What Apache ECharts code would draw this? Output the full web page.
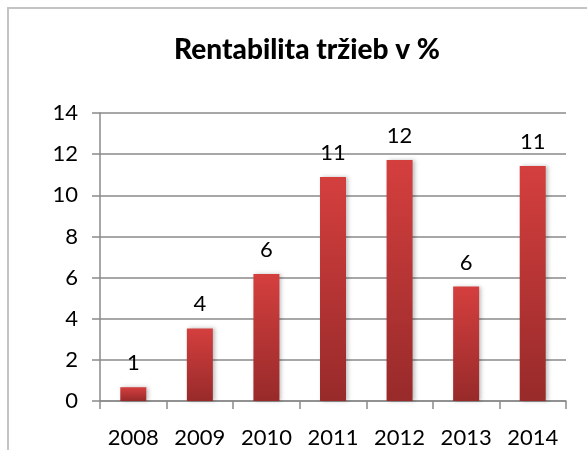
<!DOCTYPE html>
<html>
<head>
<meta charset="utf-8">
<script src="https://cdn.jsdelivr.net/npm/echarts@6/dist/echarts.min.js"></script>
<style>
  html, body { margin: 0; padding: 0; background: #fff; overflow: hidden; }
  #frame { position: absolute; left: 7px; top: 7px; width: 700px; height: 600px;
           border: 2px solid #c4c4c4; }
  #chart { position: absolute; left: 0; top: 0; width: 587px; height: 450px; }
</style>
</head>
<body>
<div id="frame"></div>
<div id="chart"></div>
<script>
  // roky a rentabilita (odcitane z obrazka)
  var years = ['2008', '2009', '2010', '2011', '2012', '2013', '2014'];
  var rentabilita = [0.67, 3.53, 6.17, 10.89, 11.72, 5.56, 11.42];
  var yTicks = { min: 0, max: 14, step: 2 };

  var myChart = echarts.init(document.getElementById('chart'), null, { renderer: 'canvas' });

  var font = 'Lato, "DejaVu Sans", sans-serif';

  var option = {
    backgroundColor: 'transparent',
    animation: false,
    title: {
      text: 'Rentabilita tržieb v %',
      left: 302,
      top: 31,
      textAlign: 'center',
      textStyle: { fontFamily: font, fontWeight: 900, fontSize: 28, color: '#000' }
    },
    grid: { left: 100, right: 21, top: 113, bottom: 49 },
    xAxis: {
      type: 'category',
      data: years,
      axisLine: { lineStyle: { color: '#8a8a8a', width: 1.5 } },
      axisTick: { show: true, length: 8, lineStyle: { color: '#8a8a8a', width: 1.5 } },
      axisLabel: { fontFamily: font, fontSize: 22, color: '#000', margin: 26 }
    },
    yAxis: {
      type: 'value',
      min: yTicks.min,
      max: yTicks.max,
      interval: yTicks.step,
      axisLine: { show: true, lineStyle: { color: '#8a8a8a', width: 1.5 } },
      axisTick: { show: true, length: 8, lineStyle: { color: '#8a8a8a', width: 1.5 } },
      splitLine: { lineStyle: { color: '#8a8a8a', width: 1.5 } },
      axisLabel: { fontFamily: font, fontSize: 22, color: '#000', margin: 22 }
    },
    series: [
      {
        type: 'bar',
        data: rentabilita,
        barWidth: 26,
        itemStyle: {
          color: new echarts.graphic.LinearGradient(0, 0, 0, 1, [
            { offset: 0, color: '#d43f3e' },
            { offset: 1, color: '#982a2a' }
          ]),
          shadowColor: 'rgba(0,0,0,0.25)',
          shadowBlur: 4,
          shadowOffsetX: 2
        },
        label: {
          show: true,
          position: 'top',
          distance: 13,
          fontFamily: font,
          fontSize: 22,
          color: '#000',
          formatter: function (p) { return Math.round(p.value); }
        }
      }
    ]
  };

  myChart.setOption(option);
</script>
</body>
</html>
